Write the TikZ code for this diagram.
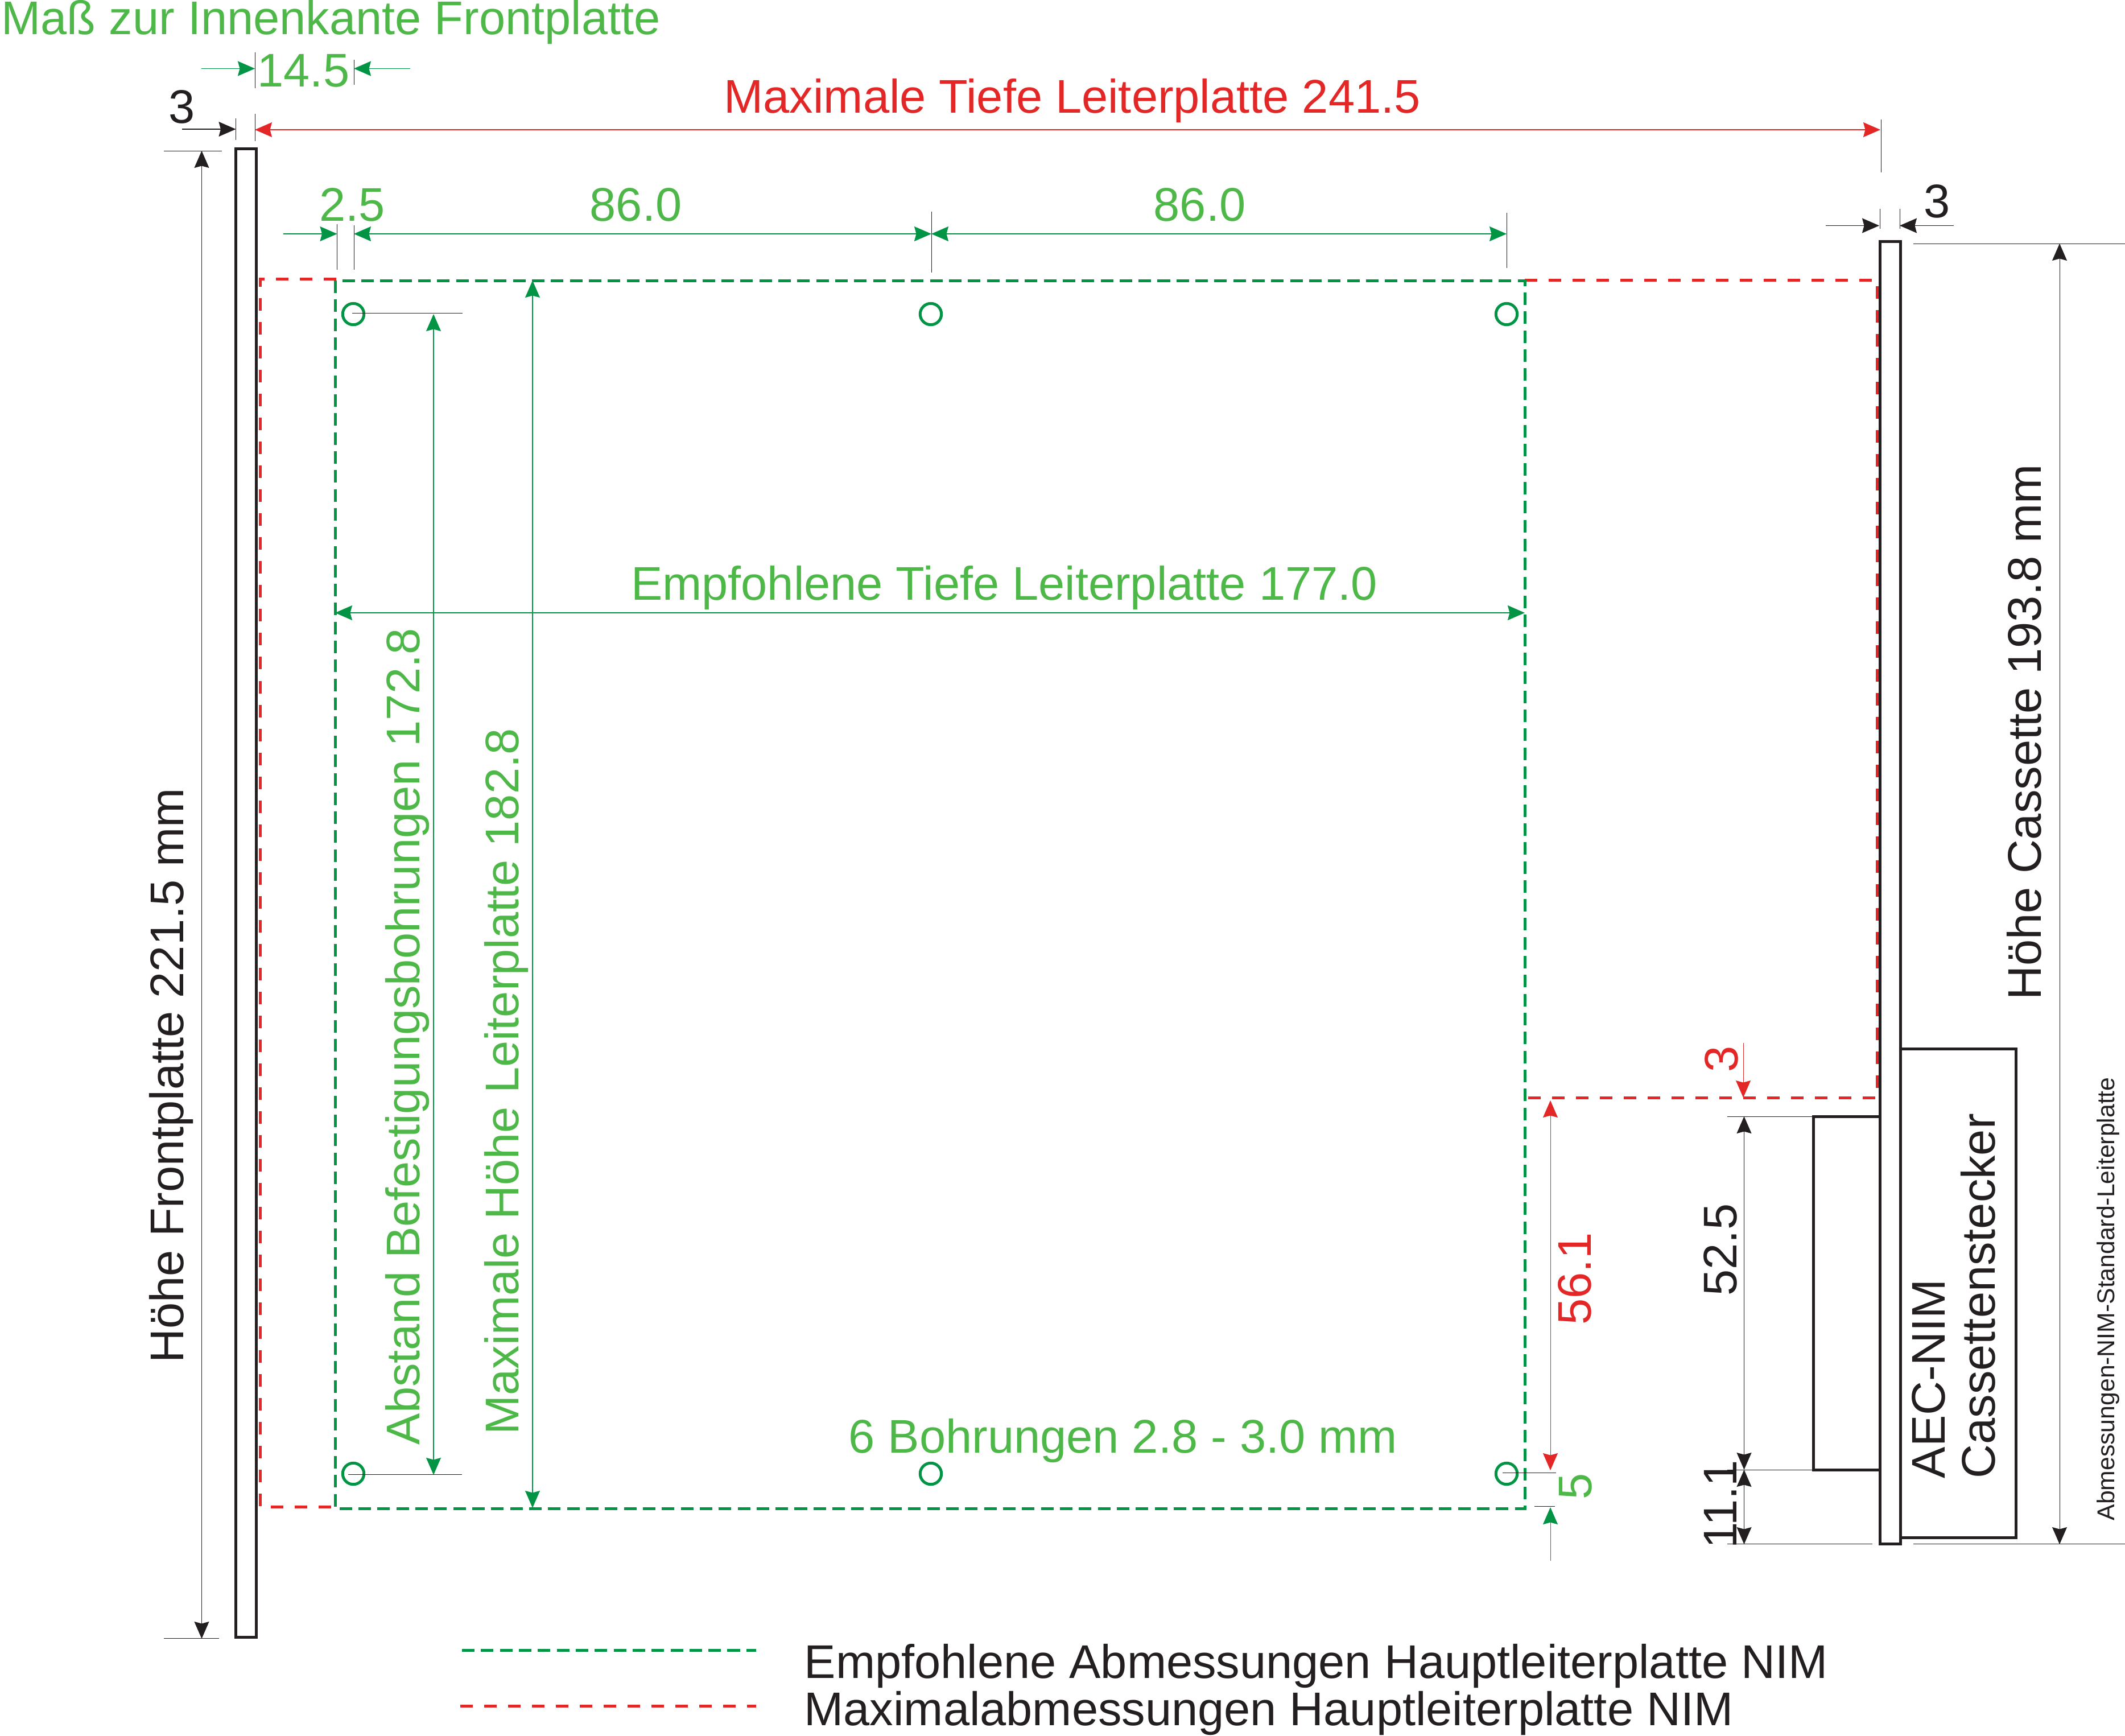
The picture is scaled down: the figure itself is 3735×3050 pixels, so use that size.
\documentclass[tikz,border=0pt]{standalone}
\usepackage{fontspec}
\setmainfont{Liberation Sans}
\usetikzlibrary{arrows.meta}
\definecolor{nimgreen}{HTML}{009444}
\definecolor{nimtext}{HTML}{4DB848}
\definecolor{nimred}{HTML}{E32726}
\definecolor{nimblack}{HTML}{231F20}

\begin{document}
\begin{tikzpicture}[
    x=0.01cm, y=-0.01cm,
    >={Stealth[length=0.3cm,width=0.26cm,inset=0.035cm]},
    label/.style={inner sep=0pt, font=\fontsize{23.6}{23.6}\selectfont, text=nimblack},
    glabel/.style={label, text=nimtext},
    rlabel/.style={label, text=nimred},
    plate/.style={draw=nimblack, line width=0.05cm},
    gdash/.style={draw=nimgreen, line width=0.05cm, dash pattern=on 0.22cm off 0.113cm},
    rdash/.style={draw=nimred, line width=0.05cm, dash pattern=on 0.22cm off 0.2cm},
    bore/.style={draw=nimgreen, line width=0.05cm},
    ext/.style={draw=nimblack, line width=0.25pt},
    dim/.style={draw=nimblack, line width=0.3pt},
    gdim/.style={draw=nimgreen, line width=0.3pt},
    rdim/.style={draw=nimred, line width=0.3pt}
]
\useasboundingbox (0,0) rectangle (3735,3050);

% ----------------------------
% Board outlines
% ----------------------------
\draw[rdash] (591,490) -- (457,490) -- (457,2648) -- (591,2648);
\draw[rdash] (2680,492) -- (3299,492) -- (3299,1929) -- (2680,1929);
\draw[gdash] (589,493) rectangle (2680,2651);

\draw[plate] (414.5,261) rectangle (450,2877);
\draw[plate] (3304,424.5) rectangle (3340,2713);
\draw[plate] (3304,1962) -- (3187,1962) -- (3187,2583) -- (3304,2583);
\draw[plate] (3340,1843) -- (3543,1843) -- (3543,2702) -- (3340,2702);

% Bore holes
\foreach \px in {621,1636,2648}
    \foreach \py in {552,2590}
        \draw[bore] (\px,\py) circle (18.7);

% ----------------------------
% Extension lines
% ----------------------------
\draw[ext] (448,92) -- (448,155);
\draw[ext] (622,105) -- (622,149);
\draw[ext] (414.5,208) -- (414.5,246);
\draw[ext] (448,200) -- (448,248);
\draw[ext] (3306,210) -- (3306,303);
\draw[ext] (592.5,394) -- (592.5,474);
\draw[ext] (622,396) -- (622,474);
\draw[ext] (1637,372) -- (1637,479);
\draw[ext] (2648,374) -- (2648,471);
\draw[ext] (3304,367) -- (3304,402);
\draw[ext] (3339,367) -- (3339,402);
\draw[ext] (288,265.5) -- (390,265.5);
\draw[ext] (288,2879) -- (385,2879);
\draw[ext] (619,550) -- (813,550);
\draw[ext] (612,2591.5) -- (812,2591.5);
\draw[ext] (3363,428) -- (3735,428);
\draw[ext] (3363,2713.5) -- (3735,2713.5);
\draw[ext] (3036,2713.5) -- (3291,2713.5);
\draw[ext] (3036,1962) -- (3187,1962);
\draw[ext] (3036,2583) -- (3187,2583);
\draw[ext] (2641,2588.5) -- (2735,2588.5);
\draw[ext] (2697,2647.5) -- (2733,2647.5);

% ----------------------------
% Dimension arrows
% ----------------------------
\draw[gdim,->] (354,120.5) -- (448,120.5);
\draw[gdim,->] (721,120.5) -- (622,120.5);
\draw[dim,->] (320,227) -- (414.5,227);
\draw[rdim,<->] (448,228) -- (3305,228);
\draw[gdim,->] (498,411) -- (592.5,411);
\draw[gdim,<->] (622,411) -- (1637,411);
\draw[gdim,<->] (1637,411) -- (2648,411);
\draw[dim,->] (3209,396.5) -- (3303,396.5);
\draw[dim,->] (3434,396.5) -- (3339,396.5);
\draw[dim,<->] (354.5,265) -- (354.5,2880);
\draw[gdim,<->] (762,552) -- (762,2592);
\draw[gdim,<->] (936,493) -- (936,2650);
\draw[gdim,<->] (589,1077) -- (2680,1077);
\draw[dim,<->] (3620,428) -- (3620,2714);
\draw[rdim,->] (3064,1833) -- (3064,1929);
\draw[rdim,<->] (2725,1934) -- (2725,2584);
\draw[gdim,->] (2725,2743) -- (2725,2649);
\draw[dim,<->] (3065.5,1962) -- (3065.5,2583);
\draw[dim,<->] (3065.5,2583) -- (3065.5,2714);

% ----------------------------
% Labels
% ----------------------------
\node[glabel, anchor=base west] (innenkante) at (2,60) {Maß zur Innenkante Frontplatte};
\node[glabel, anchor=base west] (tiefefront) at (452,152) {14.5};
\node[label, anchor=base west] (dickefront) at (296,216) {3};
\node[rlabel, anchor=base west] (maxtiefe) at (1272,198) {Maximale Tiefe Leiterplatte 241.5};
\node[glabel, anchor=base west] (randlinks) at (561,388) {2.5};
\node[glabel, anchor=base west] (bohrlinks) at (1036,388) {86.0};
\node[glabel, anchor=base west] (bohrrechts) at (2027,388) {86.0};
\node[label, anchor=base west] (dickecass) at (3381,382) {3};
\node[glabel, anchor=base] (empftiefe) at (1765,1054) {Empfohlene Tiefe Leiterplatte 177.0};
\node[glabel, anchor=base west] (bohrungen) at (1491,2553) {6 Bohrungen 2.8 - 3.0 mm};

\node[label, rotate=90, anchor=base west] (hoehefront) at (322,2396) {Höhe Frontplatte 221.5 mm};
\node[glabel, rotate=90, anchor=base west] (abstand) at (737,2540) {Abstand Befestigungsbohrungen 172.8};
\node[glabel, rotate=90, anchor=base west] (maxhoehe) at (911,2522) {Maximale Höhe Leiterplatte 182.8};
\node[label, rotate=90, anchor=base west] (hoehecass) at (3587,1758) {Höhe Cassette 193.8 mm};
\node[rlabel, rotate=90, anchor=base west] (rand) at (3054,1885) {3};
\node[rlabel, rotate=90, anchor=base west] (maxrand) at (2796,2329) {56.1};
\node[glabel, rotate=90, anchor=base west] (randunten) at (2797,2636) {5};
\node[label, rotate=90, anchor=base west] (steckermass) at (3052,2278) {52.5};
\node[label, rotate=90, anchor=base west] (steckerfuss) at (3052,2722) {11.1};
\node[label, rotate=90, anchor=base west, align=left, font=\fontsize{23.6}{25}\selectfont] (stecker) at (3506,2599) {AEC-NIM\\Cassettenstecker};
\node[label, rotate=90, anchor=base west, font=\fontsize{12.15}{15}\selectfont] (titel) at (3716,2673) {Abmessungen-NIM-Standard-Leiterplatte};

% ----------------------------
% Legend
% ----------------------------
\draw[gdash] (812,2900) -- (1329,2900);
\draw[rdash] (809,2998) -- (1329,2998);
\node[label, anchor=base west] (legempf) at (1413,2949) {Empfohlene Abmessungen Hauptleiterplatte NIM};
\node[label, anchor=base west] (legmax) at (1413,3032) {Maximalabmessungen Hauptleiterplatte NIM};
\end{tikzpicture}
\end{document}
